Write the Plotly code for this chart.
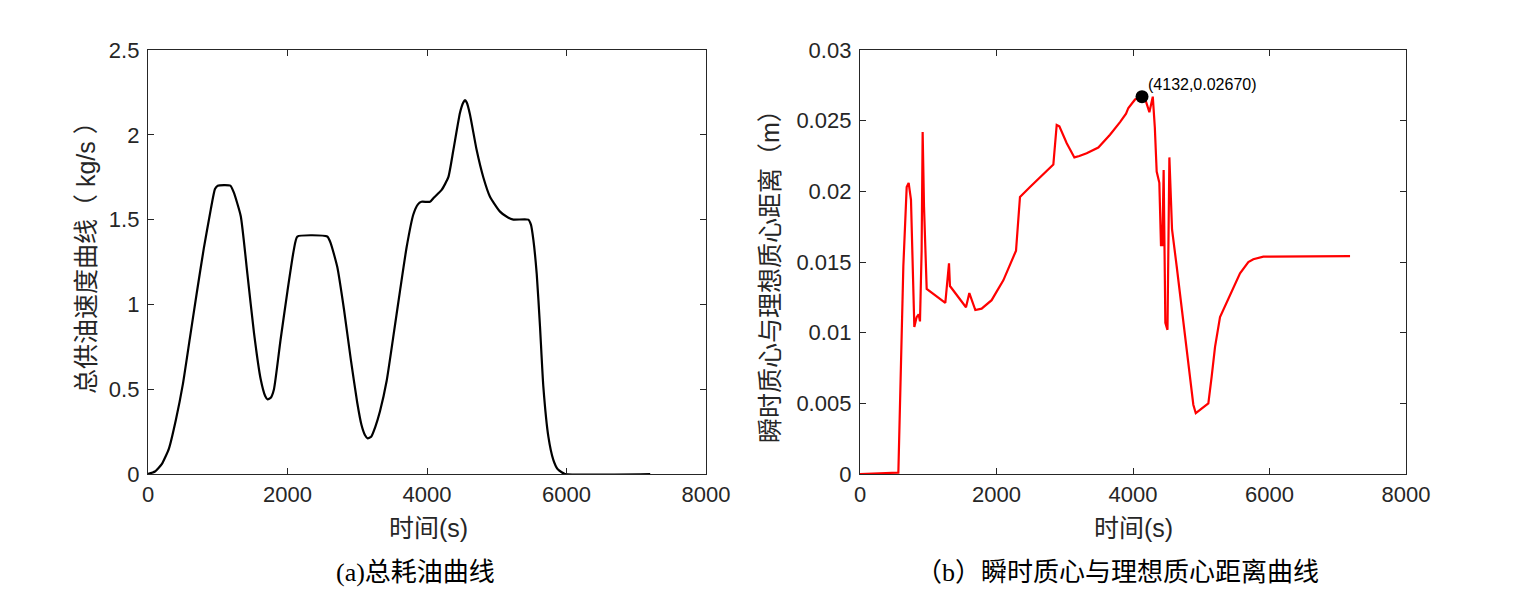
import plotly.graph_objects as go

# ---- Data: (a) total fuel supply rate ----
fuel_t = [0, 100, 200, 300, 400, 500, 600, 700, 800, 900, 960, 1000, 1180, 1230, 1330, 1425,
          1520, 1615, 1680, 1715, 1760, 1806, 1900, 2000, 2090, 2141, 2570, 2620, 2714, 2810,
          2906, 3000, 3060, 3110, 3150, 3200, 3260, 3326, 3422, 3517, 3613, 3709, 3804, 3870,
          3920, 4043, 4100, 4210, 4306, 4378, 4473, 4520, 4545, 4570, 4616, 4712, 4807, 4903,
          5047, 5150, 5238, 5453, 5490, 5525, 5573, 5620, 5668, 5740, 5811, 5870, 5931, 5980, 7200]
fuel_v = [0.0, 0.015, 0.06, 0.15, 0.32, 0.53, 0.80, 1.07, 1.33, 1.56, 1.68, 1.70, 1.70, 1.66, 1.52, 1.18,
          0.83, 0.56, 0.46, 0.44, 0.45, 0.50, 0.79, 1.08, 1.32, 1.40, 1.40, 1.36, 1.22, 0.97,
          0.68, 0.42, 0.29, 0.23, 0.21, 0.22, 0.28, 0.37, 0.55, 0.81, 1.08, 1.34, 1.53, 1.59,
          1.605, 1.605, 1.63, 1.675, 1.75, 1.91, 2.13, 2.19, 2.205, 2.19, 2.12, 1.91, 1.75, 1.635,
          1.547, 1.515, 1.50, 1.50, 1.47, 1.38, 1.18, 0.87, 0.515, 0.22, 0.083, 0.03, 0.01, 0.0, 0.0]

# ---- Data: (b) distance between instantaneous and ideal centroid ----
dist_t = [0, 562, 635, 684, 713, 747, 796, 830, 859, 879, 903, 918, 938, 977, 1250, 1304, 1318,
          1553, 1602, 1690, 1782, 1856, 1929, 2002, 2100, 2286, 2344, 2491, 2637, 2833, 2882,
          2921, 3029, 3141, 3214, 3321, 3492, 3663, 3810, 3898, 3932, 4030, 4132, 4180, 4240,
          4290, 4320, 4347, 4386, 4410, 4430, 4449, 4474, 4505, 4533, 4572, 4640, 4738, 4836,
          4884, 4920, 5104, 5153, 5202, 5275, 5348, 5470, 5568, 5690, 5763, 5910, 7180]
dist_v = [0.0, 0.0001, 0.0147, 0.0203, 0.0206, 0.0194, 0.0104, 0.0111, 0.0113, 0.0108, 0.0158, 0.0242,
          0.0189, 0.0131, 0.0121, 0.0149, 0.0133, 0.0118, 0.0128, 0.0116, 0.0117, 0.0120, 0.0123,
          0.0129, 0.0137, 0.0158, 0.0196, 0.0203, 0.0210, 0.0219, 0.0247, 0.0246, 0.0234, 0.0224,
          0.0225, 0.0227, 0.0231, 0.0240, 0.0249, 0.0255, 0.0259, 0.0265, 0.0267, 0.0265, 0.0256,
          0.0267, 0.0245, 0.0214, 0.0206, 0.0162, 0.0162, 0.0215, 0.0107, 0.0102, 0.0224, 0.0173,
          0.0147, 0.0107, 0.0069, 0.0049, 0.0043, 0.0050, 0.0069, 0.0090, 0.0111, 0.0119, 0.0132,
          0.0142, 0.0150, 0.0152, 0.01538, 0.01542]

peak_t = [4132]
peak_v = [0.0267]
peak_label = "(4132,0.02670)"

x_ticks = [0, 2000, 4000, 6000, 8000]

AX = "#262626"
SANS = "Liberation Sans, Arial, Noto Sans CJK SC"
SERIF = "Liberation Serif, Noto Sans CJK SC"

fig = go.Figure()
fig.add_trace(go.Scatter(x=fuel_t, y=fuel_v, mode="lines",
                         line=dict(color="black", width=2.2, shape="spline", smoothing=0.5),
                         xaxis="x", yaxis="y", showlegend=False))
fig.add_trace(go.Scatter(x=dist_t, y=dist_v, mode="lines",
                         line=dict(color="#ff0000", width=2.2), xaxis="x2", yaxis="y2",
                         showlegend=False))
fig.add_trace(go.Scatter(x=peak_t, y=peak_v, mode="markers",
                         marker=dict(color="black", size=13), xaxis="x2", yaxis="y2",
                         showlegend=False, cliponaxis=False))

W, H = 1531, 607
def px_x(p):
    return p / W
def px_y(p):
    return 1 - p / H

common_ax = dict(showline=True, linecolor=AX, linewidth=1.3, mirror="ticks",
                 ticks="inside", ticklen=6, tickwidth=1.3, tickcolor=AX,
                 showgrid=False, zeroline=False, automargin=False,
                 tickfont=dict(family=SANS, size=22, color=AX))

fig.update_layout(
    width=W, height=H, autosize=False,
    margin=dict(l=0, r=0, t=0, b=0, pad=0),
    paper_bgcolor="white", plot_bgcolor="white",
    xaxis=dict(domain=[px_x(148), px_x(706)], range=[0, 8000], tickvals=x_ticks,
               anchor="y", **common_ax),
    yaxis=dict(domain=[px_y(474), px_y(50)], range=[0, 2.5], dtick=0.5,
               anchor="x", ticklabelstandoff=3, **common_ax),
    xaxis2=dict(domain=[px_x(860), px_x(1406)], range=[0, 8000], tickvals=x_ticks,
                anchor="y2", **common_ax),
    yaxis2=dict(domain=[px_y(474), px_y(50)], range=[0, 0.03], dtick=0.005,
                anchor="x2", ticklabelstandoff=3, **common_ax),
)

title_font = dict(family=SANS, size=25, color=AX)
cap_font = dict(family=SERIF, size=26, color="black")
annos = [
    dict(text="时间(s)", x=px_x(428), y=px_y(528), font=title_font),
    dict(text="时间(s)", x=px_x(1133), y=px_y(528), font=title_font),
    dict(text="总供油速度曲线（ kg/s ）", x=px_x(86), y=px_y(252), textangle=-90, font=title_font),
    dict(text="瞬时质心与理想质心距离（m）", x=px_x(770), y=px_y(270), textangle=-90, font=title_font),
    dict(text="(a)总耗油曲线", x=px_x(415), y=px_y(572), font=cap_font),
    dict(text="（b）瞬时质心与理想质心距离曲线", x=px_x(1117), y=px_y(572), font=cap_font),
]
for a in annos:
    fig.add_annotation(xref="paper", yref="paper", showarrow=False,
                       xanchor="center", yanchor="middle", **a)

fig.add_annotation(x=peak_t[0], y=peak_v[0], xref="x2", yref="y2", text=peak_label,
                   showarrow=False, xanchor="left", yanchor="bottom", xshift=4, yshift=2,
                   font=dict(family=SANS, size=16, color="black"))

fig.write_html("out.html")
